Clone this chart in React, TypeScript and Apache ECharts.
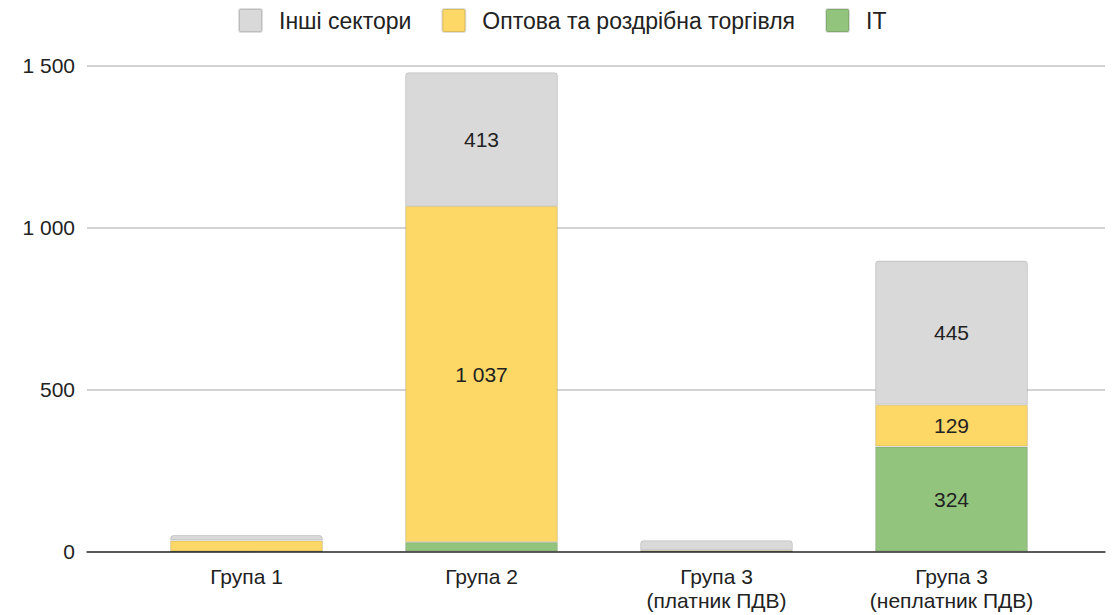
import React, { useEffect, useRef } from "react";
import * as echarts from "echarts";

const categories = ["Група 1", "Група 2", "Група 3\n(платник ПДВ)", "Група 3\n(неплатник ПДВ)"];
const seriesNames = ["Інші сектори", "Оптова та роздрібна торгівля", "IT"];
const itValues = [0, 29, 0, 324];
const tradeValues = [34, 1037, 4, 129];
const otherValues = [17, 413, 31, 445];
const yTicks = [0, 500, 1000, 1500];

const colors = { other: "#d9d9d9", trade: "#fdd867", it: "#93c47d" };

const fmt = (v: number) => String(Math.round(v)).replace(/\B(?=(\d{3})+(?!\d))/g, " ");

export default function App() {
  const ref = useRef<HTMLDivElement>(null);
  useEffect(() => {
    if (!ref.current) return;
    const chart = echarts.init(ref.current, undefined, { renderer: "svg" });
    const font = "'Liberation Sans', Arial, sans-serif";
    const label = {
      show: true,
      position: "inside",
      fontSize: 21,
      fontFamily: font,
      color: "#222",
      formatter: (p: any) => (p.value >= 100 ? fmt(p.value) : ""),
    };
    const border = { borderColor: "rgba(0,0,0,0.13)", borderWidth: 1 };
    chart.setOption({
      animation: false,
      textStyle: { fontFamily: font },
      legend: {
        left: 233,
        top: 3,
        itemWidth: 23,
        itemHeight: 23,
        itemGap: 30,
        icon: "path://M2,0 H21 A2,2 0 0 1 23,2 V21 A2,2 0 0 1 21,23 H2 A2,2 0 0 1 0,21 V2 A2,2 0 0 1 2,0 Z",
        data: seriesNames,
        textStyle: { fontSize: 23, color: "#222", fontFamily: font, padding: [0, 0, 0, 12] },
      },
      grid: [
        { left: 87, right: 12, top: 65.5, bottom: 63.5 },
        { left: 129, right: 48, top: 65.5, bottom: 63.5 },
      ],
      xAxis: [
        {
          gridIndex: 0,
          type: "value",
          min: 0,
          max: 1,
          axisLine: { show: true, onZero: false, lineStyle: { color: "#333", width: 1.5 } },
          axisTick: { show: false },
          axisLabel: { show: false },
          splitLine: { show: false },
        },
        {
          gridIndex: 1,
          type: "category",
          data: categories,
          axisLine: { show: false },
          axisTick: { show: false },
          axisLabel: { fontSize: 21, color: "#222", fontFamily: font, lineHeight: 24, margin: 13 },
        },
      ],
      yAxis: [
        {
          gridIndex: 0,
          type: "value",
          min: yTicks[0],
          max: yTicks[yTicks.length - 1],
          interval: 500,
          axisLine: { show: false },
          axisTick: { show: false },
          axisLabel: { fontSize: 21, color: "#222", fontFamily: font, margin: 12, formatter: (v: number) => fmt(v) },
          splitLine: { lineStyle: { color: "#c4c4c4", width: 1.5 } },
        },
        {
          gridIndex: 1,
          type: "value",
          min: yTicks[0],
          max: yTicks[yTicks.length - 1],
          show: false,
          splitLine: { show: false },
        },
      ],
      series: [
        {
          name: "IT",
          type: "bar",
          stack: "total",
          xAxisIndex: 1,
          yAxisIndex: 1,
          barWidth: "65%",
          data: itValues,
          itemStyle: { color: colors.it, ...border },
          label,
        },
        {
          name: "Оптова та роздрібна торгівля",
          type: "bar",
          stack: "total",
          xAxisIndex: 1,
          yAxisIndex: 1,
          data: tradeValues,
          itemStyle: { color: colors.trade, ...border },
          label,
        },
        {
          name: "Інші сектори",
          type: "bar",
          stack: "total",
          xAxisIndex: 1,
          yAxisIndex: 1,
          data: otherValues,
          itemStyle: { color: colors.other, ...border, borderRadius: [3, 3, 0, 0] },
          label,
        },
      ],
    });
    return () => chart.dispose();
  }, []);
  return <div ref={ref} style={{ width: 1117, height: 615, position: "absolute", left: 0, top: 0 }} />;
}
